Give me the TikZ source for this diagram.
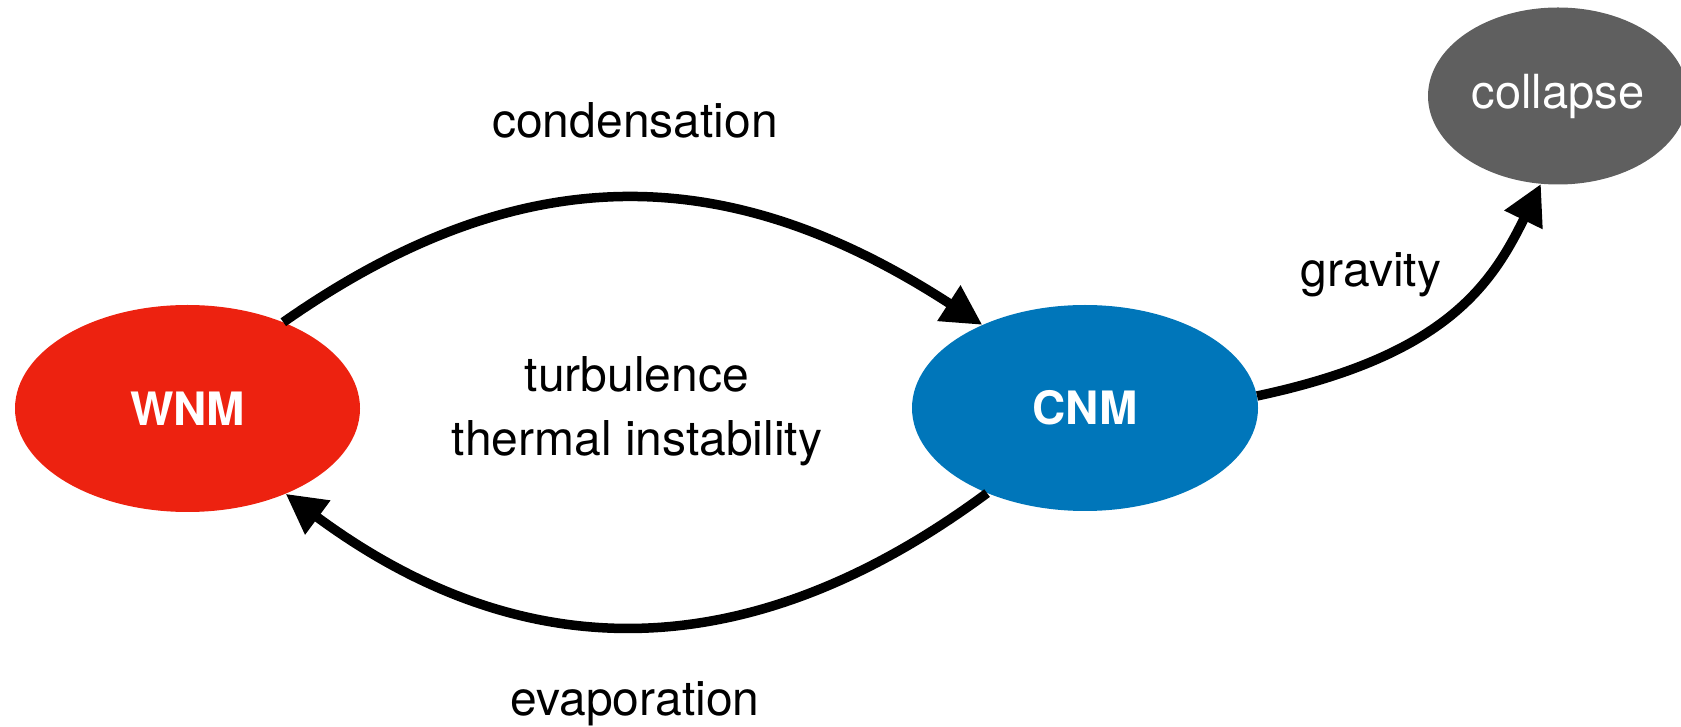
\documentclass[tikz,border=0pt]{standalone}
\usepackage{fontspec}
\setmainfont{TeX Gyre Heros}
\usetikzlibrary{shapes.geometric,arrows.meta}
\definecolor{wnmred}{RGB}{237,34,16}
\definecolor{cnmblue}{RGB}{0,118,186}
\definecolor{colgray}{RGB}{95,95,95}
\begin{document}
\begin{tikzpicture}[x=1pt,y=1pt,
  state/.style={ellipse, inner sep=0pt, text=white, font=\fontsize{46}{55}\selectfont\bfseries},
  lbl/.style={font=\fontsize{48}{64}\selectfont, align=center, inner sep=0pt},
  flow/.style={line width=9.5pt, -{Triangle[length=40pt,width=40pt]}}]
\clip (0,0) rectangle (1681,726);
\node[state, fill=wnmred, minimum width=345pt, minimum height=207pt] (wnm) at (187.5,317.5) {WNM};
\node[state, fill=cnmblue, minimum width=346pt, minimum height=206pt] (cnm) at (1085,318) {CNM};
\node[state, fill=colgray, minimum width=260pt, minimum height=177pt, font=\fontsize{47}{55}\selectfont] (col) at (1558,630) {collapse};
\node[lbl, anchor=base] (cond) at (635,588) {condensation};
\node[lbl] (turb) at (637,314.5) {turbulence\\thermal instability};
\node[lbl, anchor=base] (evap) at (635,11) {evaporation};
\node[lbl, anchor=base] (grav) at (1371,439) {gravity};
\draw[flow] (wnm.42) .. controls +(35:297) and +(147:297) .. (cnm.141);
\draw[flow] (cnm.221) .. controls +(216.5:296) and +(323.5:296) .. (wnm.319);
\draw[flow] (cnm.4) .. controls +(12:190) and +(244:115) .. (col.259);
\end{tikzpicture}
\end{document}
